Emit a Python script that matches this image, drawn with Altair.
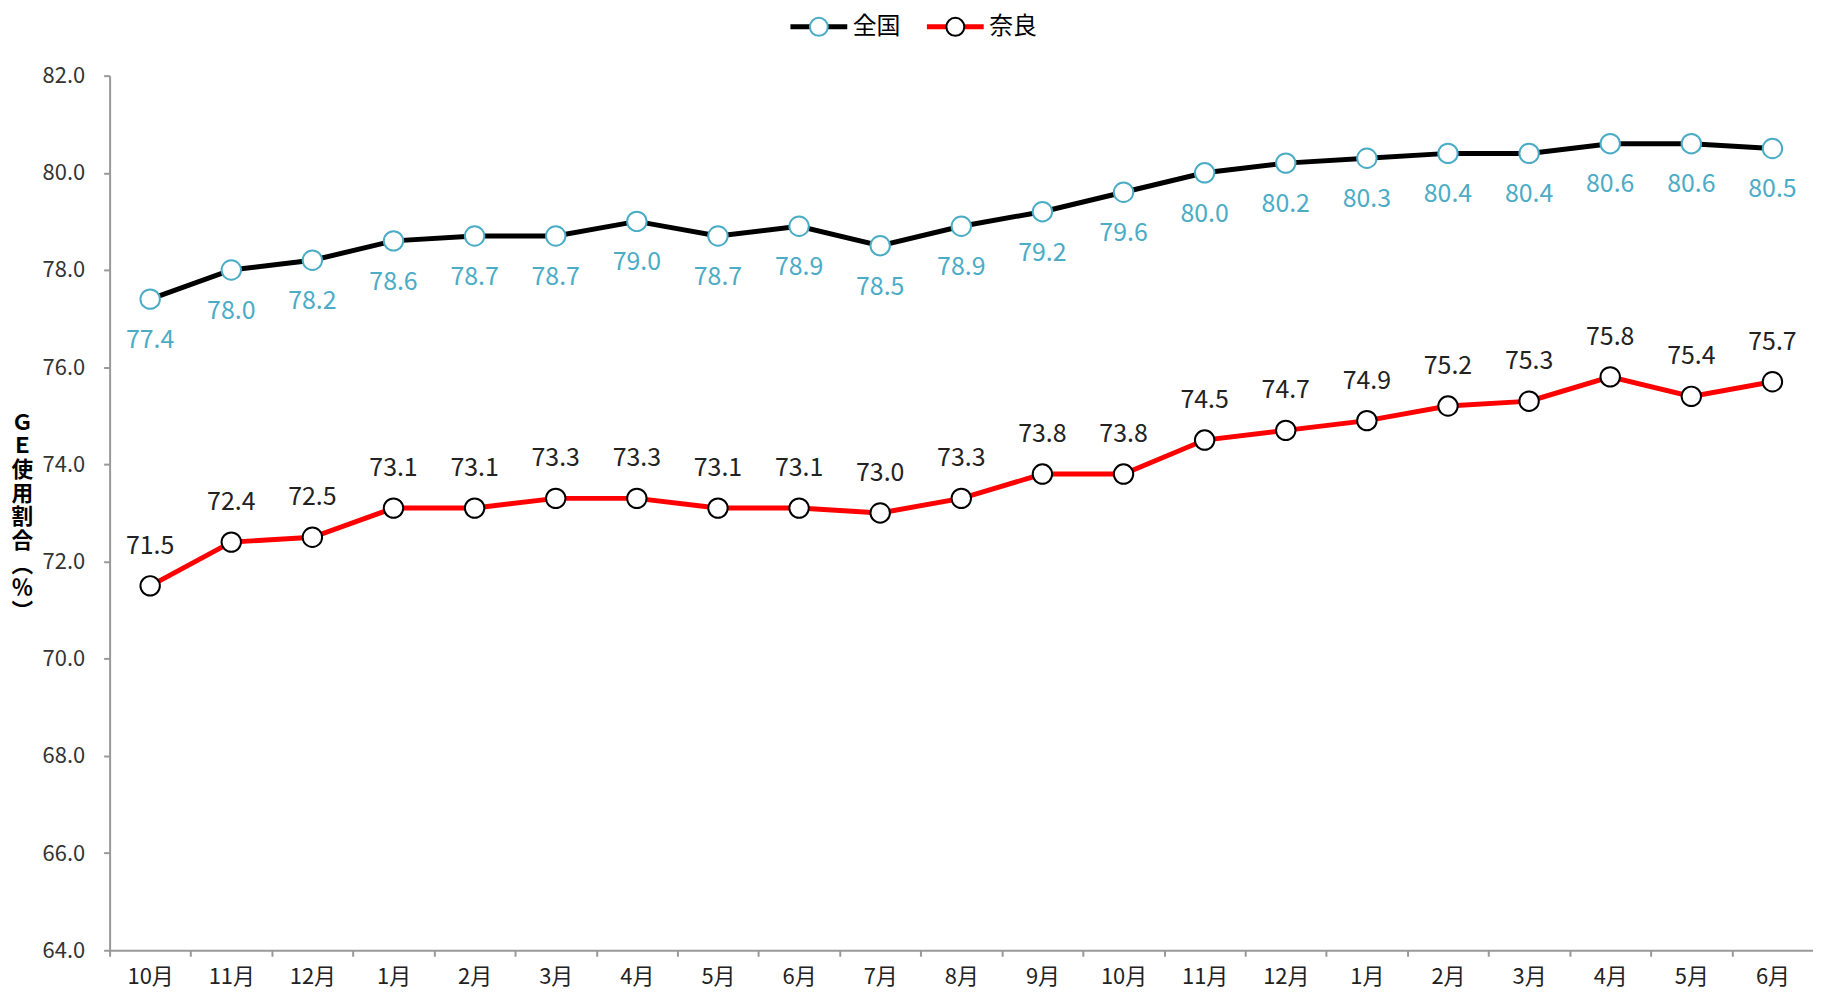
import altair as alt
import pandas as pd

months = ["10月", "11月", "12月", "1月", "2月", "3月", "4月", "5月", "6月", "7月", "8月",
          "9月", "10月", "11月", "12月", "1月", "2月", "3月", "4月", "5月", "6月"]
zenkoku = [77.4, 78.0, 78.2, 78.6, 78.7, 78.7, 79.0, 78.7, 78.9, 78.5, 78.9,
           79.2, 79.6, 80.0, 80.2, 80.3, 80.4, 80.4, 80.6, 80.6, 80.5]
nara = [71.5, 72.4, 72.5, 73.1, 73.1, 73.3, 73.3, 73.1, 73.1, 73.0, 73.3,
        73.8, 73.8, 74.5, 74.7, 74.9, 75.2, 75.3, 75.8, 75.4, 75.7]
series_names = ["全国", "奈良"]
line_colors = ["#000000", "#FF0000"]
point_colors = ["#4BACC6", "#000000"]
y_ticks = [64, 66, 68, 70, 72, 74, 76, 78, 80, 82]
y_title = ["Ｇ", "Ｅ", "使", "用", "割", "合", "︵", "％", "︶"]

keys = [f"{i:02d}|{m}" for i, m in enumerate(months)]
rows = []
for k, a, b in zip(keys, zenkoku, nara):
    rows.append({"key": k, "series": "全国", "value": a})
    rows.append({"key": k, "series": "奈良", "value": b})
df = pd.DataFrame(rows)
df["series2"] = df["series"]

W, H = 1710, 878
step = W / len(months)
FONT = "Noto Sans CJK JP"

x_enc = alt.X(
    "key:N", sort=keys,
    scale=alt.Scale(type="point", padding=0.5),
    axis=alt.Axis(
        title=None, labelExpr="split(datum.value,'|')[1]", labelAngle=0,
        tickOffset=-step / 2, labelOffset=step / 2, labelFontSize=22,
        labelFont=FONT, labelColor="#222", labelPadding=10,
        domainColor="#999", domainWidth=2, tickColor="#999", tickWidth=2,
        tickSize=6, grid=False,
    ),
)
y_enc = alt.Y(
    "value:Q",
    scale=alt.Scale(domain=[64, 82], nice=False, zero=False),
    axis=alt.Axis(
        values=y_ticks, format=".1f", title=y_title, titleAngle=0,
        titleX=-88, titleY=348, titleAlign="center", titleBaseline="middle",
        titleFont=FONT, titleFontSize=21.75, titleFontWeight="bold",
        titleColor="#000",
        labelFont=FONT, labelFontSize=22, labelColor="#333", labelPadding=19,
        domainColor="#999", domainWidth=2, tickColor="#999", tickWidth=2,
        tickSize=6, grid=False,
    ),
)

base = alt.Chart(df)

lines = base.mark_line(strokeWidth=5).encode(
    x=x_enc, y=y_enc,
    color=alt.Color(
        "series:N",
        scale=alt.Scale(domain=series_names, range=line_colors),
        legend=alt.Legend(
            title=None, orient="none", direction="horizontal",
            legendX=700, legendY=-61, symbolType="M-3.17,0L3.17,0",
            symbolSize=324, symbolStrokeWidth=5, labelExpr="''",
            labelFontSize=24, labelOffset=0, columnPadding=59,
        ),
    ),
)

points = base.mark_point(filled=False, fill="white", size=380, strokeWidth=2, opacity=1).encode(
    x=x_enc, y=y_enc,
    stroke=alt.Stroke(
        "series2:N",
        scale=alt.Scale(domain=series_names, range=point_colors),
        legend=alt.Legend(
            title=None, orient="none", direction="horizontal",
            legendX=700, legendY=-61, symbolType="circle", symbolSize=324,
            symbolStrokeWidth=2, symbolFillColor="white", labelFont=FONT,
            labelFontSize=24, labelColor="#000", labelOffset=22,
            columnPadding=42,
        ),
    ),
)

lab_z = base.transform_filter(alt.datum.series == "全国").mark_text(
    dy=41, fontSize=25, font=FONT, color="#4BACC6"
).encode(x=x_enc, y=y_enc, text=alt.Text("value:Q", format=".1f"))

lab_n = base.transform_filter(alt.datum.series == "奈良").mark_text(
    dy=-40, fontSize=25, font=FONT, color="#222"
).encode(x=x_enc, y=y_enc, text=alt.Text("value:Q", format=".1f"))

chart = alt.layer(lines, points, lab_z, lab_n).resolve_scale(
    color="independent", stroke="independent"
).properties(
    width=W, height=H,
    autosize=alt.AutoSizeParams(type="none"),
    padding={"left": 102, "top": 66, "right": 0, "bottom": 40},
    background="white",
).configure_view(stroke=None)

chart.save("out.html", embed_options={"renderer": "svg", "actions": False})
